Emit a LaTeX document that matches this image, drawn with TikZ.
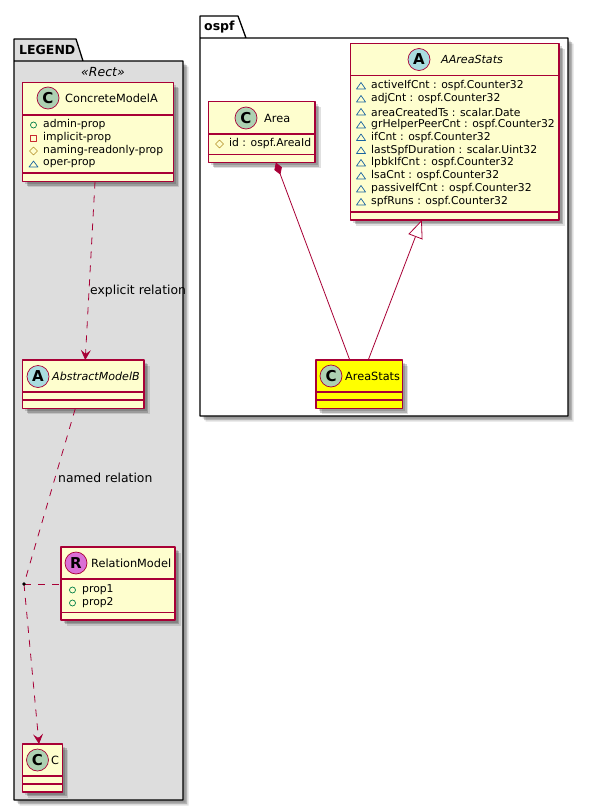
\documentclass[tikz,border=0pt]{standalone}
\usepackage{fontspec}
\setmainfont{DejaVu Sans}
\usetikzlibrary{arrows.meta,shadows}
\definecolor{umlred}{HTML}{A80036}
\definecolor{umlcream}{HTML}{FEFECE}
\definecolor{umlyellow}{HTML}{FFFF00}
\definecolor{spotC}{HTML}{ADD1B2}
\definecolor{spotA}{HTML}{A9DCDF}
\definecolor{spotR}{HTML}{DA70D6}
\definecolor{pkggray}{HTML}{DDDDDD}
\definecolor{icongreen}{HTML}{038048}
\definecolor{iconred}{HTML}{C82930}
\definecolor{iconorange}{HTML}{B38D22}
\definecolor{iconblue}{HTML}{1963A0}
\tikzset{
	softshadow/.style={
		drop shadow={shadow xshift=5.5pt,shadow yshift=-5.5pt,fill=black,opacity=.12},
		drop shadow={shadow xshift=4pt,shadow yshift=-4pt,fill=black,opacity=.2},
		drop shadow={shadow xshift=2.5pt,shadow yshift=-2.5pt,fill=black,opacity=.15}},
	classbox/.style={draw=umlred,line width=1.25pt,inner sep=0pt,outer sep=0pt,softshadow},
	spot/.style={circle,draw=umlred,line width=.7pt,minimum size=22pt,inner sep=0pt,font=\bfseries\fontsize{15}{15}\selectfont},
	title/.style={anchor=west,inner sep=0pt,font=\fontsize{11.3}{12}\selectfont},
	member/.style={anchor=west,inner sep=0pt,font=\fontsize{10.8}{11}\selectfont},
	rel/.style={umlred,line width=.8pt},
	edgelabel/.style={anchor=west,inner sep=0pt,font=\fontsize{12.4}{13}\selectfont},
	pkgtitle/.style={anchor=west,inner sep=0pt,font=\bfseries\fontsize{12.5}{13}\selectfont},
}
\begin{document}
\begin{tikzpicture}[x=1pt,y=-1pt,line join=round,>={Stealth[length=10pt,width=10pt,inset=4pt]}]
	\useasboundingbox (0,0) rectangle (589,811);
	% packages
	\foreach \d/\o in {2.5/.15,4/.2,5.5/.12}
		\path[fill=black,opacity=\o] (14+\d,61+\d) rectangle (183+\d,800+\d) (200+\d,38+\d) rectangle (568+\d,416+\d);
	\draw[fill=pkggray,line width=1.3pt] (14,61)--(14,39)--(76,39)--(83,61)--(183,61)--(183,800)--(14,800)--cycle (14,61)--(83,61);
	\draw[fill=white,line width=1.3pt] (200,38)--(200,16)--(238,16)--(246,38)--(568,38)--(568,416)--(200,416)--cycle (200,38)--(246,38);
	\node[pkgtitle] (legendname) at (19,50) {LEGEND};
	\node[pkgtitle] (ospfname) at (204,27) {ospf};
	\node[anchor=center,inner sep=0pt,font=\itshape\fontsize{12.5}{13}\selectfont] (stereo) at (103,72) {«Rect»};
	% class boxes: name, left, top, right, bottom, header line, member line, fill
	\foreach \n/\a/\b/\c/\d/\e/\f/\col in {
		concrete/22.5/82.5/173.5/181.5/115/173/umlcream,
		abstract/22.5/360/144/408.7/392/400/umlcream,
		relation/61/547/175/620/579/612.7/umlcream,
		cbox/22.5/744/62.5/792/776/784/umlcream,
		area/208.7/101.7/315/162.5/134/154.5/umlcream,
		aareastats/350.7/43.7/559/220/75.5/212/umlcream,
		areastats/316/360/402.5/408.7/392/400/umlyellow}{
		\node[classbox,fill=\col,minimum width={(\c-\a)*1pt},minimum height={(\d-\b)*1pt}] (\n) at ({(\a+\c)/2},{(\b+\d)/2}) {};
		\draw[umlred,line width=1.25pt] (\a,\e)--(\c,\e) (\a,\f)--(\c,\f);
	}
	% spots
	\foreach \n/\x/\y/\l/\col in {concrete/48/98/C/spotC,abstract/38/376.5/A/spotA,relation/76/563/R/spotR,cbox/37.5/760/C/spotC,area/246/118/C/spotC,aareastats/419/59.5/A/spotA,areastats/331/376/C/spotC}
		\node[spot,fill=\col] (\n-spot) at (\x,\y) {\l};
	% titles
	\foreach \n/\x/\y/\t in {concrete/65/98/ConcreteModelA,relation/91/563/RelationModel,cbox/51/760/C,area/264/118/Area,areastats/345/376/AreaStats}
		\node[title] (\n-title) at (\x,\y) {\t};
	\foreach \n/\x/\y/\t in {abstract/52/376.5/AbstractModelB,aareastats/441/59.5/AAreaStats}
		\node[title,font=\itshape\fontsize{11.1}{12}\selectfont] (\n-title) at (\x,\y) {\t};
	% members
	\foreach \y/\t [count=\i] in {86/activeIfCnt : ospf.Counter32,99/adjCnt : ospf.Counter32,112/areaCreatedTs : scalar.Date,125/grHelperPeerCnt : ospf.Counter32,137.5/ifCnt : ospf.Counter32,150.5/lastSpfDuration : scalar.Uint32,163/lpbkIfCnt : ospf.Counter32,176/lsaCnt : ospf.Counter32,189/passiveIfCnt : ospf.Counter32,202/spfRuns : ospf.Counter32}{
		\draw[iconblue,line width=.7pt] (356.5,\y+3)--(365.5,\y+3)--(361,\y-3.5)--cycle;
		\node[member] (stat\i) at (371,\y) {\t};
	}
	\draw[icongreen,line width=.7pt] (33.5,125) circle (3);
	\draw[iconred,line width=.7pt] (30.5,135) rectangle (36.5,141);
	\draw[iconorange,line width=.7pt] (33.5,147)--(37.5,151)--(33.5,155)--(29.5,151)--cycle;
	\draw[iconblue,line width=.7pt] (29,167)--(38,167)--(33.5,161)--cycle;
	\foreach \y/\t [count=\i] in {125/admin-prop,138/implicit-prop,151/naming-readonly-prop,164/oper-prop}
		\node[member] (concrete\i) at (43,\y) {\t};
	\draw[iconorange,line width=.7pt] (219.5,140)--(223.5,144)--(219.5,148)--(215.5,144)--cycle;
	\node[member] (areaid) at (229,144) {id : ospf.AreaId};
	\foreach \y/\t [count=\i] in {590/prop1,603/prop2}{
		\draw[icongreen,line width=.7pt] (72.5,\y) circle (3);
		\node[member] (relprop\i) at (82,\y) {\t};
	}
	% relations
	\coordinate (joint) at (24,584);
	\draw[rel,dash pattern=on 7pt off 7pt,->] ([xshift=-3pt]concrete.south)--([xshift=2pt]abstract.north);
	\draw[rel,dash pattern=on 7pt off 7pt] ([xshift=-8pt]abstract.south)--(joint);
	\draw[rel,dash pattern=on 7pt off 7pt,->] (joint)--([xshift=-3.5pt]cbox.north);
	\draw[rel,dash pattern=on 7pt off 7pt] (joint)--(joint-|relation.west);
	\fill (joint) circle (1.8);
	\node[edgelabel] (explicit) at (90,291) {explicit relation};
	\node[edgelabel] (named) at (58,478) {named relation};
	\draw[rel,{Diamond[length=13pt,width=8pt,fill=umlred]}-] ([xshift=14pt]area.south)--([xshift=-9.5pt]areastats.north);
	\draw[rel,{Triangle[length=18pt,width=15pt,fill=white]}-] ([xshift=-33pt]aareastats.south)--([xshift=9pt]areastats.north);
\end{tikzpicture}
\end{document}
